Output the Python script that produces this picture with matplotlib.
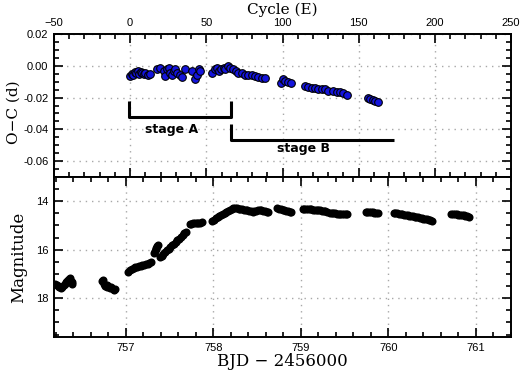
import numpy as np
import matplotlib
matplotlib.use('Agg')
import matplotlib.pyplot as plt
from matplotlib.ticker import MultipleLocator, FormatStrFormatter

# O-C of superhump maxima
cycle = [0, 1, 2, 3, 4, 5, 6, 7, 8, 9, 10, 12, 13,
         17.5, 19.7, 21.9, 23.0, 24.1, 25.2, 26.3, 27.4, 28.5, 29.5, 30.6, 32.8, 33.9, 36.1,
         40.9, 42.6, 43.7, 45.4, 46.0,
         53.6, 55.4, 56.9, 58.0, 59.8, 61.3, 62.4, 64.1, 65.6, 67.8, 69.3, 71.1, 73.3,
         75.5, 77.6, 79.8, 82.0, 84.2, 86.4, 88.6,
         98.9, 100.2, 101.7, 103.9, 105.4,
         114.9, 117.0, 119.2, 121.4, 123.6, 125.7, 127.9, 130.1, 133.4, 135.5, 137.7, 139.9, 142.5,
         155.8, 157.6, 159.4, 160.9, 162.4]
oc = [-0.0065, -0.0050, -0.0055, -0.0040, -0.0045, -0.0035, -0.0050, -0.0040, -0.0045,
      -0.0050, -0.0045, -0.0055, -0.0050,
      -0.0019, -0.0013, -0.0034, -0.0065, -0.0023, -0.0013, -0.0044, -0.0055, -0.0034,
      -0.0023, -0.0044, -0.0055, -0.0069, -0.0023,
      -0.0034, -0.0086, -0.0055, -0.0023, -0.0034,
      -0.0048, -0.0023, -0.0013, -0.0034, -0.0019, -0.0013, -0.0023, -0.0002, -0.0013,
      -0.0023, -0.0034, -0.0044, -0.0048,
      -0.0055, -0.0055, -0.0061, -0.0065, -0.0069, -0.0076, -0.0080,
      -0.0107, -0.0086, -0.0096, -0.0101, -0.0107,
      -0.0128, -0.0132, -0.0137, -0.0141, -0.0145, -0.0149, -0.0149, -0.0160, -0.0160,
      -0.0166, -0.0166, -0.0170, -0.0181,
      -0.0202, -0.0210, -0.0214, -0.0219, -0.0230]

# light curve, one list per night segment
seg_bjd = [
    [756.19, 756.21, 756.23, 756.24, 756.26, 756.27, 756.29, 756.30, 756.32, 756.33,
     756.34, 756.35, 756.36, 756.37, 756.38, 756.39],
    [756.73, 756.74, 756.75, 756.76, 756.78, 756.79, 756.80, 756.82, 756.83, 756.85,
     756.86, 756.88],
    [757.03, 757.05, 757.07, 757.09, 757.11, 757.13, 757.15, 757.17, 757.19, 757.21,
     757.23, 757.25, 757.27, 757.29],
    [757.32, 757.33, 757.34, 757.35, 757.36, 757.37],
    [757.39, 757.41, 757.43, 757.45, 757.47, 757.49, 757.51, 757.53, 757.55, 757.57,
     757.59, 757.61, 757.63, 757.65, 757.67, 757.69],
    [757.73, 757.75, 757.77, 757.79, 757.81, 757.83, 757.85, 757.87],
    [757.99, 758.01, 758.03, 758.05, 758.07, 758.09, 758.11, 758.13, 758.15, 758.17,
     758.19, 758.21, 758.23, 758.25, 758.27, 758.29, 758.31, 758.33, 758.35, 758.37,
     758.39, 758.41, 758.43, 758.45, 758.47, 758.49, 758.51, 758.53, 758.55, 758.57,
     758.59, 758.61, 758.63],
    [758.73, 758.75, 758.77, 758.79, 758.81, 758.83, 758.85, 758.87, 758.89],
    [759.02, 759.04, 759.06, 759.08, 759.10, 759.12, 759.14, 759.16, 759.18, 759.20,
     759.22, 759.24, 759.26, 759.28, 759.30],
    [759.33, 759.35, 759.37, 759.39, 759.41, 759.43, 759.45, 759.47, 759.49, 759.51, 759.53],
    [759.74, 759.76, 759.78, 759.80, 759.82, 759.84, 759.86, 759.88],
    [760.06, 760.08, 760.10, 760.12, 760.14, 760.16, 760.18, 760.20, 760.22, 760.24,
     760.26, 760.28, 760.30, 760.32, 760.34, 760.36, 760.38, 760.40, 760.42, 760.44,
     760.46, 760.48, 760.50],
    [760.72, 760.74, 760.76, 760.78, 760.80, 760.82, 760.84, 760.86, 760.88, 760.90, 760.92],
]
seg_mag = [
    [17.40, 17.45, 17.50, 17.55, 17.58, 17.52, 17.45, 17.40, 17.35, 17.30,
     17.25, 17.20, 17.17, 17.30, 17.40, 17.35],
    [17.30, 17.25, 17.40, 17.50, 17.55, 17.45, 17.50, 17.58, 17.55, 17.62, 17.65, 17.63],
    [16.90, 16.84, 16.79, 16.76, 16.73, 16.70, 16.68, 16.66, 16.64, 16.61,
     16.59, 16.57, 16.55, 16.52],
    [16.12, 16.05, 15.98, 15.92, 15.86, 15.82],
    [16.30, 16.24, 16.18, 16.10, 16.03, 15.96, 15.89, 15.82, 15.75, 15.68,
     15.61, 15.54, 15.47, 15.40, 15.33, 15.27],
    [14.95, 14.92, 14.90, 14.90, 14.89, 14.88, 14.88, 14.87],
    [14.80, 14.76, 14.71, 14.66, 14.62, 14.57, 14.52, 14.47, 14.43, 14.39,
     14.35, 14.31, 14.28, 14.27, 14.28, 14.30, 14.31, 14.33, 14.35, 14.36,
     14.37, 14.39, 14.42, 14.43, 14.42, 14.40, 14.38, 14.37, 14.38, 14.40,
     14.42, 14.43, 14.45],
    [14.28, 14.30, 14.33, 14.35, 14.37, 14.39, 14.41, 14.43, 14.44],
    [14.33, 14.32, 14.33, 14.33, 14.34, 14.34, 14.35, 14.36, 14.37, 14.37,
     14.38, 14.39, 14.40, 14.41, 14.43],
    [14.47, 14.48, 14.49, 14.50, 14.51, 14.51, 14.52, 14.52, 14.53, 14.53, 14.53],
    [14.43, 14.44, 14.45, 14.45, 14.46, 14.47, 14.48, 14.50],
    [14.48, 14.49, 14.50, 14.51, 14.52, 14.53, 14.55, 14.56, 14.57, 14.59,
     14.61, 14.62, 14.63, 14.65, 14.67, 14.68, 14.70, 14.72, 14.73, 14.75,
     14.77, 14.79, 14.81],
    [14.51, 14.52, 14.53, 14.54, 14.55, 14.55, 14.56, 14.57, 14.59, 14.61, 14.63],
]

# stage brackets (cycle, O-C)
stage_a_x = [-1, -1, 66, 66]
stage_a_y = [-0.022, -0.032, -0.032, -0.022]
stage_b_x = [66, 66, 173]
stage_b_y = [-0.0365, -0.047, -0.047]

plt.rcParams['font.family'] = ['Liberation Sans', 'DejaVu Sans']
plt.rcParams['axes.unicode_minus'] = True

fig = plt.figure(figsize=(5.21, 3.74), dpi=100)
W, H = 521.0, 374.0
ax1 = fig.add_axes([54 / W, 1 - 177 / H, 457 / W, 143 / H])
ax2 = fig.add_axes([54 / W, 1 - 337 / H, 457 / W, 160 / H])

grid_kw = dict(color='#a8a8a8', linestyle=(0, (1, 3.5)), linewidth=1.0)
serif = ['DejaVu Serif']

for ax in (ax1, ax2):
    ax.tick_params(which='both', direction='in', top=True, bottom=True,
                   left=True, right=True, width=1.2, labelsize=8, pad=4)
    ax.tick_params(which='major', length=6.5)
    ax.tick_params(which='minor', length=3.5)
    for sp in ax.spines.values():
        sp.set_linewidth(1.4)
    ax.grid(True, which='major', **grid_kw)
    ax.set_axisbelow(True)

# top panel: O-C
ax1.plot(cycle, oc, 'o', color='#1414dc', markeredgecolor='black',
         markeredgewidth=0.8, markersize=5.5, zorder=3)
ax1.plot(stage_a_x, stage_a_y, color='black', linewidth=2.2, solid_capstyle='butt')
ax1.plot(stage_b_x, stage_b_y, color='black', linewidth=2.2, solid_capstyle='butt')
ax1.text(27, -0.0398, 'stage A', ha='center', va='center', fontsize=9,
         fontweight='bold', family=['DejaVu Sans'])
ax1.text(114, -0.0522, 'stage B', ha='center', va='center', fontsize=9,
         fontweight='bold', family=['DejaVu Sans'])
ax1.set_xlim(-50, 250)
ax1.set_ylim(-0.07, 0.02)
ax1.xaxis.set_major_locator(MultipleLocator(50))
ax1.xaxis.set_minor_locator(MultipleLocator(10))
ax1.yaxis.set_major_locator(MultipleLocator(0.02))
ax1.yaxis.set_minor_locator(MultipleLocator(0.005))
ax1.yaxis.set_major_formatter(FormatStrFormatter('%.2f'))
ax1.tick_params(axis='x', labeltop=True, labelbottom=False)
ax1.xaxis.set_label_position('top')
ax1.set_xlabel('Cycle (E)', fontsize=11, family=serif, labelpad=3)
ax1.set_ylabel('O\u2212C (d)', fontsize=11, family=serif, labelpad=3)
ax1.yaxis.set_label_coords(-0.072, 0.45)

# bottom panel: light curve
for b, m in zip(seg_bjd, seg_mag):
    ax2.plot(b, m, 'o', color='black', markersize=5.8, markeredgewidth=0, zorder=3)
ax2.set_xlim(756.18, 761.40)
ax2.set_ylim(19.6, 13.0)
ax2.xaxis.set_major_locator(MultipleLocator(1))
ax2.xaxis.set_minor_locator(MultipleLocator(0.2))
ax2.yaxis.set_major_locator(MultipleLocator(2))
ax2.yaxis.set_minor_locator(MultipleLocator(0.5))
ax2.set_xlabel('BJD \u2212 2456000', fontsize=12, family=serif, labelpad=0)
ax2.set_ylabel('Magnitude', fontsize=12, family=serif, labelpad=6)

fig.savefig('out.png', dpi=100)
